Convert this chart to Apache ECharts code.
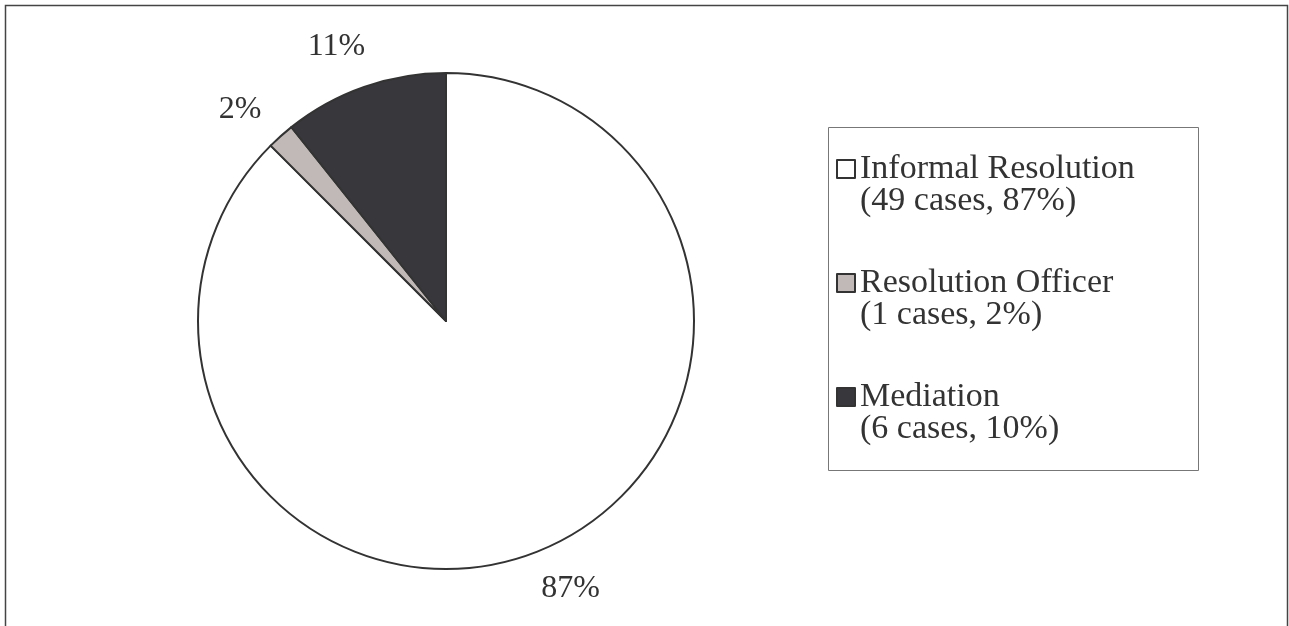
<!DOCTYPE html>
<html>
<head>
<meta charset="utf-8">
<script src="https://cdn.jsdelivr.net/npm/echarts@6/dist/echarts.min.js"></script>
<style>
html,body{margin:0;padding:0;background:#fff;}
#chart{width:1289px;height:626px;}
</style>
</head>
<body>
<div id="chart"></div>
<script>
const categories = ['Informal Resolution', 'Resolution Officer', 'Mediation'];
const caseCounts = [49, 1, 6];
const legendDetails = ['(49 cases, 87%)', '(1 cases, 2%)', '(6 cases, 10%)'];
const sliceColors = ['#ffffff', '#c1b9b7', '#38373c'];

const FONT = '"Liberation Serif", "Times New Roman", serif';
const TEXT = '#333333';

const pieData = categories.map((name, i) => ({
  name: name,
  value: caseCounts[i],
  itemStyle: { color: sliceColors[i] }
}));

const chart = echarts.init(document.getElementById('chart'));
chart.setOption({
  animation: false,
  graphic: [
    { type: 'rect', z: 0, shape: { x: 5.5, y: 5.5, width: 1282, height: 700 },
      style: { fill: 'none', stroke: '#444', lineWidth: 1.5 } },
    { type: 'rect', z: 0, shape: { x: 828.5, y: 127.5, width: 370, height: 343 },
      style: { fill: 'none', stroke: '#777', lineWidth: 1 } }
  ],
  legend: {
    orient: 'vertical',
    left: 836,
    top: 120,
    padding: 0,
    itemGap: 16,
    itemWidth: 18,
    itemHeight: 18,
    icon: 'rect',
    data: categories,
    formatter: function (name) {
      return ' \n' + name + '\n' + legendDetails[categories.indexOf(name)];
    },
    textStyle: {
      fontFamily: FONT,
      fontSize: 34,
      lineHeight: 32,
      color: TEXT
    },
    itemStyle: { borderColor: '#333', borderWidth: 2 }
  },
  series: [
    {
      type: 'pie',
      center: [446, 321],
      radius: [0, 248],
      startAngle: 90,
      clockwise: true,
      silent: true,
      percentPrecision: 0,
      data: pieData,
      itemStyle: { borderColor: '#333', borderWidth: 2 },
      label: { show: false },
      labelLine: { show: false }
    },
    {
      type: 'pie',
      center: [446, 321],
      radius: [0, 584],
      startAngle: 92.5,
      clockwise: true,
      silent: true,
      percentPrecision: 0,
      data: categories.map((name, i) => ({ name: name, value: caseCounts[i] })),
      itemStyle: { color: 'rgba(0,0,0,0)', borderWidth: 0 },
      label: {
        show: true,
        position: 'inside',
        formatter: '{d}%',
        fontFamily: FONT,
        fontSize: 32,
        color: TEXT
      },
      labelLine: { show: false },
      z: 1
    }
  ]
});
</script>
</body>
</html>
